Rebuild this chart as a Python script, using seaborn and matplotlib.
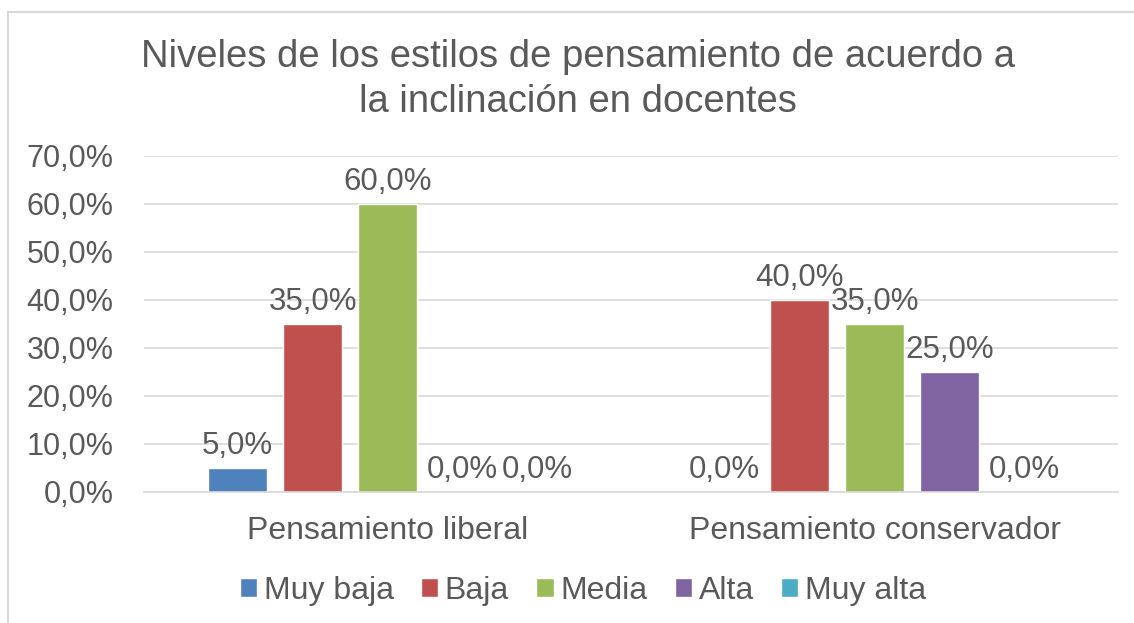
import pandas as pd
import matplotlib.pyplot as plt
import seaborn as sns
from matplotlib.patches import Rectangle

# chart values
categories = ['Pensamiento liberal', 'Pensamiento conservador']
levels = ['Muy baja', 'Baja', 'Media', 'Alta', 'Muy alta']
muy_baja = [0.05, 0.0]
baja = [0.35, 0.40]
media = [0.60, 0.35]
alta = [0.0, 0.25]
muy_alta = [0.0, 0.0]
yticks = [0.0, 0.1, 0.2, 0.3, 0.4, 0.5, 0.6, 0.7]

colors = ['#4F81BD', '#C0504D', '#9BBB59', '#8064A2', '#4BACC6']
text_color = '#595959'
grid_color = '#D9D9D9'

rows = []
for lvl, vals in zip(levels, [muy_baja, baja, media, alta, muy_alta]):
    for cat, v in zip(categories, vals):
        rows.append({'categoria': cat, 'nivel': lvl, 'valor': v})
df = pd.DataFrame(rows)

sns.set_style('white')
plt.rcParams['font.family'] = ['Liberation Sans', 'DejaVu Sans']


def pct(v):
    return f'{v * 100:.1f}%'.replace('.', ',')


fig = plt.figure(figsize=(11.34, 6.23), dpi=100)
ax = fig.add_axes([0.127, 0.2103, 0.859, 0.5393])

sns.barplot(data=df, x='categoria', y='valor', hue='nivel', order=categories,
            hue_order=levels, palette=colors, width=0.77, gap=0.21,
            saturation=1, ax=ax, legend=True)

# data labels above each bar
for cont in ax.containers:
    ax.bar_label(cont, labels=[pct(b.get_height()) for b in cont],
                 padding=5, fontsize=22.5, color=text_color)

ax.set_xlim(-0.5, 1.5)
ax.set_ylim(0, 0.7)
ax.set_yticks(yticks)
ax.set_yticklabels([pct(v) for v in yticks])
ax.yaxis.grid(True, color=grid_color, linewidth=1.2)
ax.set_axisbelow(True)
ax.set_xlabel('')
ax.set_ylabel('')
ax.tick_params(axis='y', length=0, labelsize=22, colors=text_color, pad=22)
ax.tick_params(axis='x', length=0, labelsize=23, colors=text_color, pad=17)
for s in ['top', 'right', 'left']:
    ax.spines[s].set_visible(False)
ax.spines['bottom'].set_color(grid_color)
ax.spines['bottom'].set_linewidth(1.2)

fig.suptitle('Niveles de los estilos de pensamiento de acuerdo a\nla inclinación en docentes',
             x=0.51, y=0.937, fontsize=27.5, color=text_color, linespacing=1.3)

ax.legend(loc='center', bbox_to_anchor=(0.514, 0.052), bbox_transform=fig.transFigure,
          ncol=5, frameon=False, fontsize=23, labelcolor=text_color,
          handlelength=0.55, handleheight=0.55, handletextpad=0.2, columnspacing=0.85)

# chart-area border (right and bottom edges are cropped in the reference)
fig.patches.append(Rectangle((0.007, -0.5), 1.5, 1.481, transform=fig.transFigure,
                             fill=False, edgecolor=grid_color, linewidth=1.5))

fig.savefig('out.png', dpi=100)
